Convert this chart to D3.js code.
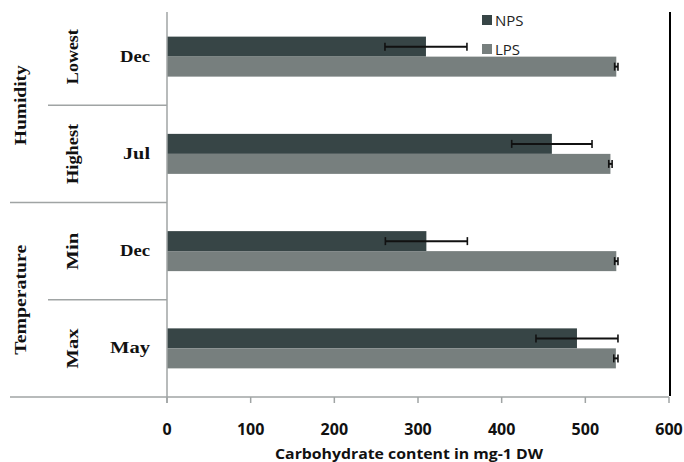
<!DOCTYPE html>
<html><head><meta charset="utf-8">
<script src="https://cdn.jsdelivr.net/npm/d3@7"></script>
<style>body{margin:0;background:#fff}svg{display:block}</style>
</head><body>
<script>
const conditions = ["Lowest", "Highest", "Min", "Max"];
const months = ["Dec", "Jul", "Dec", "May"];
const groups = ["Humidity", "Temperature"];
const npsValues = [309.5, 460, 310, 490];
const npsErrors = [49, 48, 49, 49];
const lpsValues = [537, 530, 537, 536.5];
const lpsErrors = [2, 2, 2, 2.5];
const xTicks = [0, 100, 200, 300, 400, 500, 600];
const seriesNames = ["NPS", "LPS"];
const xTitle = "Carbohydrate content in mg-1 DW";

const W = 684, H = 462;
const svg = d3.select("body").append("svg").attr("width", W).attr("height", H);
const x = d3.scaleLinear().domain([0, 600]).range([167, 669]);
const y = d3.scaleBand().domain(d3.range(conditions.length)).range([8, 397]);
const colors = {NPS: "#374546", LPS: "#777f7e"};
const barH = 20;

// bars
const g = svg.append("g");
conditions.forEach((c, i) => {
  const cy = y(i) + y.bandwidth() / 2;
  g.append("rect").attr("x", x(0)).attr("y", cy - barH).attr("width", x(npsValues[i]) - x(0)).attr("height", barH).attr("fill", colors.NPS);
  g.append("rect").attr("x", x(0)).attr("y", cy).attr("width", x(lpsValues[i]) - x(0)).attr("height", barH).attr("fill", colors.LPS);
  const eb = (v, e, yy) => {
    const x1 = x(v - e), x2 = x(v + e);
    g.append("line").attr("x1", x1).attr("x2", x2).attr("y1", yy).attr("y2", yy).attr("stroke", "#111").attr("stroke-width", 2);
    [x1, x2].forEach(xx => g.append("line").attr("x1", xx).attr("x2", xx).attr("y1", yy - 4).attr("y2", yy + 4).attr("stroke", "#111").attr("stroke-width", 1.6));
  };
  eb(npsValues[i], npsErrors[i], cy - barH / 2);
  eb(lpsValues[i], lpsErrors[i], cy + barH / 2);
});

// axes lines
const axisCol = "#a0a4a4";
svg.append("line").attr("x1", x(0)).attr("x2", x(0)).attr("y1", 12).attr("y2", 403).attr("stroke", axisCol).attr("stroke-width", 1.5);
svg.append("line").attr("x1", 10).attr("x2", x(600)).attr("y1", 397).attr("y2", 397).attr("stroke", axisCol).attr("stroke-width", 1.5);
svg.append("line").attr("x1", x(600) + 1).attr("x2", x(600) + 1).attr("y1", 12).attr("y2", 396).attr("stroke", "#000").attr("stroke-width", 2);
xTicks.forEach(t => {
  svg.append("line").attr("x1", x(t)).attr("x2", x(t)).attr("y1", 397).attr("y2", 403).attr("stroke", axisCol).attr("stroke-width", 1.5);
  svg.append("text").attr("x", x(t)).attr("y", 435).attr("text-anchor", "middle")
    .attr("font-family", "'Open Sans', sans-serif").attr("font-weight", 700).attr("font-size", 16).attr("fill", "#111").text(t);
});
svg.append("text").attr("x", 409).attr("y", 459).attr("text-anchor", "middle")
  .attr("font-family", "'Open Sans', sans-serif").attr("font-weight", 700).attr("font-size", 14)
  .attr("textLength", 268).attr("lengthAdjust", "spacingAndGlyphs").attr("fill", "#111").text(xTitle);

// separators
[[1, 48], [2, 10], [3, 48]].forEach(([i, x0]) => {
  svg.append("line").attr("x1", x0).attr("x2", x(0)).attr("y1", y(i)).attr("y2", y(i)).attr("stroke", axisCol).attr("stroke-width", 1.5);
});

// category labels
const serif = "'Liberation Serif', 'Times New Roman', serif";
const condLen = [55, 60, 37, 40];
const monLen = [30, 27, 30, 40];
conditions.forEach((c, i) => {
  const cy = y(i) + y.bandwidth() / 2;
  svg.append("text").attr("transform", `translate(78,${cy}) rotate(-90)`).attr("text-anchor", "middle")
    .attr("font-family", serif).attr("font-weight", 700).attr("font-size", 16)
    .attr("textLength", condLen[i]).attr("lengthAdjust", "spacingAndGlyphs").attr("fill", "#111").text(c);
  svg.append("text").attr("x", 150).attr("y", cy + 5).attr("text-anchor", "end")
    .attr("font-family", serif).attr("font-weight", 700).attr("font-size", 16)
    .attr("textLength", monLen[i]).attr("lengthAdjust", "spacingAndGlyphs").attr("fill", "#111").text(months[i]);
});
const groupLen = [80, 110];
groups.forEach((gname, k) => {
  const cy = y(2 * k) + y.bandwidth();
  svg.append("text").attr("transform", `translate(26,${cy}) rotate(-90)`).attr("text-anchor", "middle")
    .attr("font-family", serif).attr("font-weight", 700).attr("font-size", 16)
    .attr("textLength", groupLen[k]).attr("lengthAdjust", "spacingAndGlyphs").attr("fill", "#111").text(gname);
});

// legend
seriesNames.forEach((s, k) => {
  const ly = 15 + k * 29;
  svg.append("rect").attr("x", 482).attr("y", ly).attr("width", 10).attr("height", 10).attr("fill", colors[s]);
  svg.append("text").attr("x", 495).attr("y", ly + 11).attr("font-family", "'Open Sans', sans-serif")
    .attr("font-size", 15).attr("fill", "#222").text(s);
});
</script>
</body></html>
